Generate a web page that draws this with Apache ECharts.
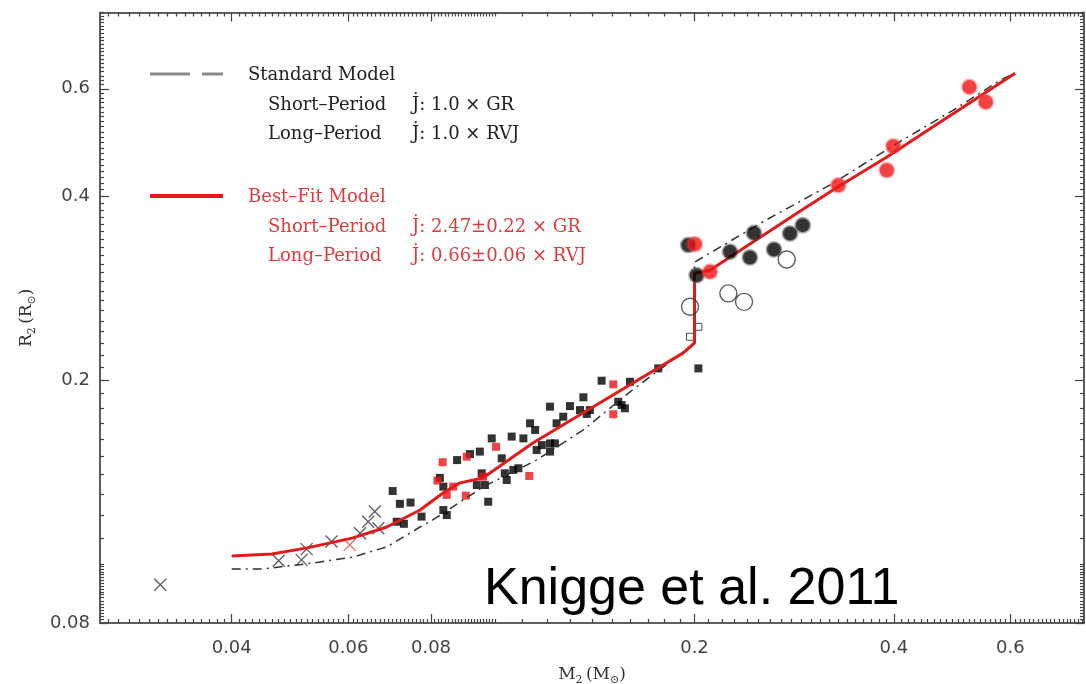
<!DOCTYPE html>
<html>
<head>
<meta charset="utf-8">
<title>Donor sequence: R2 vs M2</title>
<script src="https://cdn.jsdelivr.net/npm/echarts@6/dist/echarts.min.js"></script>
<style>
  html, body { margin: 0; padding: 0; background: #fff; }
  #chart { width: 1086px; height: 684px; }
</style>
</head>
<body>
<div id="chart"></div>
<script>
// ---- axis ranges and tick labels ----
const X_MIN = 0.0253, X_MAX = 0.775;
const Y_MIN = 0.08, Y_MAX = 0.8;
const xMajorTicks = [0.04, 0.06, 0.08, 0.2, 0.4, 0.6];
const yMajorTicks = [0.08, 0.2, 0.4, 0.6];

// ---- model tracks [M2, R2] ----
const standardModel = [[0.040,0.0981],[0.0446,0.0981],[0.0530,0.1003],[0.0610,0.1026],[0.0686,0.1066],
  [0.0770,0.1149],[0.0805,0.1180],[0.0958,0.1336],[0.1156,0.1480],[0.1357,0.1656],[0.1615,0.1930],
  [0.1921,0.2220],[0.2000,0.2300],[0.2000,0.3120],[0.2573,0.3664],[0.3237,0.4200],[0.3990,0.4840],
  [0.4914,0.5532],[0.5787,0.6194],[0.6077,0.6360]];
const bestFitModel = [[0.040,0.1030],[0.046,0.1038],[0.052,0.1062],[0.061,0.1103],[0.0686,0.1149],
  [0.077,0.1225],[0.0834,0.1306],[0.0885,0.1357],[0.0958,0.1382],[0.114,0.1577],[0.1357,0.1766],
  [0.1615,0.1978],[0.1921,0.2214],[0.200,0.2300],[0.200,0.2993],[0.211,0.3027],[0.2886,0.3780],
  [0.330,0.4150],[0.3906,0.4640],[0.4585,0.5200],[0.610,0.6360]];

// ---- observed donors [M2, R2] ----
const squaresBlack = [[0.0700,0.1316],[0.0718,0.1254],[0.0745,0.1260],[0.0710,0.1172],[0.0728,0.1163],
  [0.0774,0.1195],[0.0825,0.1383],[0.0835,0.1338],[0.0835,0.1225],[0.0845,0.1202],[0.0876,0.1479],
  [0.0916,0.1513],[0.0948,0.1527],[0.0988,0.1605],[0.1059,0.1616],[0.1103,0.1605],[0.1023,0.1489],
  [0.0954,0.1407],[0.0938,0.1346],[0.0965,0.1346],[0.0976,0.1264],[0.1034,0.1407],[0.1041,0.1372],
  [0.1065,0.1425],[0.1084,0.1434],[0.1129,0.1699],[0.1149,0.1657],[0.1155,0.1536],[0.1176,0.1565],
  [0.1210,0.1809],[0.1210,0.1575],[0.1231,0.1575],[0.1210,0.1527],[0.1238,0.1699],[0.1267,0.1742],
  [0.1297,0.1813],[0.1359,0.1874],[0.1343,0.1786],[0.1390,0.1786],[0.1375,0.1760],[0.1448,0.1995],
  [0.1534,0.1843],[0.1552,0.1820],[0.1570,0.1798],[0.1598,0.1987],[0.1763,0.2090],[0.2027,0.2090]];
const squaresRed = [[0.0833,0.1467],[0.0906,0.1498],[0.1003,0.1555],[0.0818,0.1369],[0.0864,0.1338],
  [0.0845,0.1297],[0.0903,0.1293],[0.0959,0.1389],[0.1126,0.1393],[0.1508,0.1968],[0.1508,0.1758]];
const squaresOpen = [[0.2027,0.2445],[0.1969,0.2355]];
const crossesBlack = [[0.0312,0.0924],[0.0471,0.1012],[0.0510,0.1015],[0.0519,0.1057],[0.0566,0.1088],
  [0.0625,0.1122],[0.0643,0.1172],[0.0658,0.1218],[0.0666,0.1144]];
const crossesRed = [[0.0603,0.1074]];
const circlesBlack = [[0.1957,0.3327],[0.2015,0.2970],[0.2263,0.3244],[0.2459,0.3484],[0.2425,0.3176],
  [0.2637,0.3273],[0.2788,0.3476],[0.2914,0.3587]];
const circlesRed = [[0.2002,0.3339],[0.2111,0.3008],[0.3298,0.4170],[0.3903,0.4413],[0.3993,0.4831],
  [0.5203,0.6040],[0.5508,0.5709]];
const circlesOpen = [[0.1969,0.2637],[0.2250,0.2773],[0.2376,0.2686],[0.2756,0.3152]];

// minor ticks: every 0.001 below 0.1, every 0.01 above
function minorTicks(lo, hi, skip) {
  const out = [];
  for (let k = Math.ceil(lo * 1000); k < 100; k++) { const v = k / 1000; if (v <= hi && skip.indexOf(v) < 0) out.push(v); }
  for (let k = 10; k * 100 <= hi * 10000 + 1e-6; k++) { const v = k / 100; if (v >= lo && skip.indexOf(v) < 0) out.push(v); }
  return out;
}
const xMinorTicks = minorTicks(X_MIN, X_MAX, xMajorTicks);
const yMinorTicks = minorTicks(Y_MIN, Y_MAX, yMajorTicks);

const AXIS_COLOR = '#555';
const SERIF = '"DejaVu Serif", serif';
const SANS = '"DejaVu Sans", sans-serif';
const nameRich = {
  m: { fontFamily: SERIF, fontSize: 17, color: '#333', lineHeight: 22 },
  s: { fontFamily: SERIF, fontSize: 11, color: '#333', lineHeight: 22, verticalAlign: 'bottom' }
};
const fmt = v => String(+(+v).toFixed(3));

function axis(dim, pos, ticks, len, withLabels, extra) {
  const a = {
    type: 'log', logBase: 10, position: pos,
    min: dim === 'x' ? X_MIN : Y_MIN, max: dim === 'x' ? X_MAX : Y_MAX,
    axisLine: { show: true, onZero: false, lineStyle: { color: AXIS_COLOR, width: 1.6 } },
    axisTick: { show: true, inside: true, length: len, customValues: ticks, lineStyle: { color: '#444', width: 1.2 } },
    axisLabel: withLabels
      ? { show: true, customValues: ticks, formatter: fmt, fontFamily: SANS, fontSize: 18, color: '#444',
          margin: dim === 'x' ? 16 : 10 }
      : { show: false },
    splitLine: { show: false }, minorTick: { show: false }, minorSplitLine: { show: false }
  };
  return Object.assign(a, extra || {});
}

const crossPath = 'path://M0,0L10,10M10,0L0,10';

const chart = echarts.init(document.getElementById('chart'), null, { renderer: 'canvas' });
chart.setOption({
  animation: false,
  backgroundColor: '#fff',
  grid: { left: 100, right: 2, top: 12.5, bottom: 61, containLabel: false, outerBoundsMode: 'none' },
  xAxis: [
    axis('x', 'bottom', xMajorTicks, 9, true, {
      name: '{m|M}{s|2} {m|(M}{s|⊙}{m|)}', nameLocation: 'middle', nameGap: 41,
      nameTextStyle: { rich: nameRich }
    }),
    axis('x', 'bottom', xMinorTicks, 4, false),
    axis('x', 'top', xMajorTicks, 9, false),
    axis('x', 'top', xMinorTicks, 4, false)
  ],
  yAxis: [
    axis('y', 'left', yMajorTicks, 9, true, {
      name: '{m|R}{s|2} {m|(R}{s|⊙}{m|)}', nameLocation: 'middle', nameGap: 62, nameRotate: 90,
      nameTextStyle: { rich: nameRich }
    }),
    axis('y', 'left', yMinorTicks, 4, false),
    axis('y', 'right', yMajorTicks, 9, false),
    axis('y', 'right', yMinorTicks, 4, false)
  ],
  series: [
    { type: 'scatter', name: 'squares', data: squaresBlack, symbol: 'rect', symbolSize: 8,
      itemStyle: { color: '#000' }, z: 2 },
    { type: 'scatter', name: 'squares red', data: squaresRed, symbol: 'rect', symbolSize: 8,
      itemStyle: { color: '#e8141a' }, z: 2 },
    { type: 'scatter', name: 'squares open', data: squaresOpen, symbol: 'rect', symbolSize: 7,
      itemStyle: { color: '#fff', borderColor: '#222', borderWidth: 1 }, z: 2 },
    { type: 'scatter', name: 'crosses', data: crossesBlack, symbol: crossPath, symbolSize: 12,
      itemStyle: { color: 'rgba(0,0,0,0)', borderColor: '#333', borderWidth: 1.3 }, z: 2 },
    { type: 'scatter', name: 'crosses red', data: crossesRed, symbol: crossPath, symbolSize: 12,
      itemStyle: { color: 'rgba(0,0,0,0)', borderColor: '#e04040', borderWidth: 1.3 }, z: 2 },
    { type: 'line', name: 'Standard Model', data: standardModel, showSymbol: false, symbol: 'none',
      lineStyle: { color: '#333', width: 1.5, type: [9, 5, 2, 5] }, z: 3 },
    { type: 'line', name: 'Best-Fit Model', data: bestFitModel, showSymbol: false, symbol: 'none',
      lineStyle: { color: '#e41a1a', width: 3 }, z: 4 },
    { type: 'scatter', name: 'circles open', data: circlesOpen, symbol: 'circle', symbolSize: 17,
      itemStyle: { color: 'rgba(255,255,255,0)', borderColor: '#333', borderWidth: 1.4 }, z: 5 },
    { type: 'scatter', name: 'circles', data: circlesBlack, symbol: 'circle', symbolSize: 14,
      itemStyle: { color: '#000', borderColor: 'rgba(70,70,70,0.55)', borderWidth: 3 }, z: 5 },
    { type: 'scatter', name: 'circles red', data: circlesRed, symbol: 'circle', symbolSize: 14,
      itemStyle: { color: '#f21111', borderColor: 'rgba(235,70,70,0.5)', borderWidth: 3 }, z: 6 }
  ],
  graphic: [
    // legend keys
    { type: 'line', shape: { x1: 150, y1: 74, x2: 190, y2: 74 }, style: { stroke: '#8a8a8a', lineWidth: 3 } },
    { type: 'line', shape: { x1: 202, y1: 74, x2: 223, y2: 74 }, style: { stroke: '#8a8a8a', lineWidth: 3 } },
    { type: 'line', shape: { x1: 150, y1: 196, x2: 223, y2: 196 }, style: { stroke: '#e41a1a', lineWidth: 4 } },
    // legend text
    { type: 'text', x: 248, y: 75, style: { text: 'Standard Model', font: '18px ' + SERIF, fill: '#222', verticalAlign: 'middle' } },
    { type: 'text', x: 268, y: 105, style: { text: 'Short\u2013Period', font: '18px ' + SERIF, fill: '#222', verticalAlign: 'middle' } },
    { type: 'text', x: 412, y: 105, style: { text: 'J\u0307: 1.0 \u00d7 GR', font: '18px ' + SERIF, fill: '#222', verticalAlign: 'middle' } },
    { type: 'text', x: 268, y: 134, style: { text: 'Long\u2013Period', font: '18px ' + SERIF, fill: '#222', verticalAlign: 'middle' } },
    { type: 'text', x: 412, y: 134, style: { text: 'J\u0307: 1.0 \u00d7 RVJ', font: '18px ' + SERIF, fill: '#222', verticalAlign: 'middle' } },
    { type: 'text', x: 248, y: 197, style: { text: 'Best\u2013Fit Model', font: '18px ' + SERIF, fill: '#e03a3a', verticalAlign: 'middle' } },
    { type: 'text', x: 268, y: 227, style: { text: 'Short\u2013Period', font: '18px ' + SERIF, fill: '#e03a3a', verticalAlign: 'middle' } },
    { type: 'text', x: 412, y: 227, style: { text: 'J\u0307: 2.47\u00b10.22 \u00d7 GR', font: '18px ' + SERIF, fill: '#e03a3a', verticalAlign: 'middle' } },
    { type: 'text', x: 268, y: 256, style: { text: 'Long\u2013Period', font: '18px ' + SERIF, fill: '#e03a3a', verticalAlign: 'middle' } },
    { type: 'text', x: 412, y: 256, style: { text: 'J\u0307: 0.66\u00b10.06 \u00d7 RVJ', font: '18px ' + SERIF, fill: '#e03a3a', verticalAlign: 'middle' } },
    // citation
    { type: 'text', x: 484, y: 590, style: { text: 'Knigge et al. 2011', font: '52px "Liberation Sans", Arial, sans-serif', fill: '#000', verticalAlign: 'middle' } }
  ]
});
</script>
</body>
</html>
